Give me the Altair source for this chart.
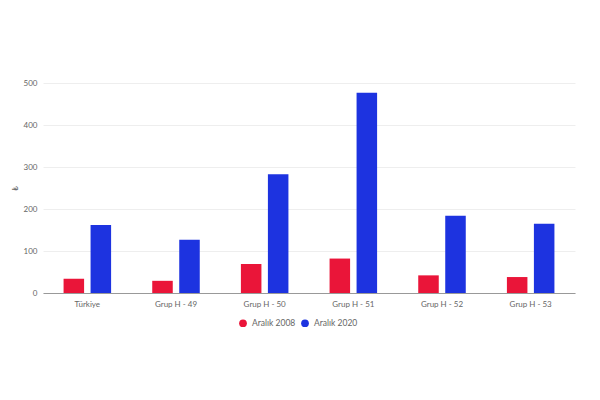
import altair as alt
import pandas as pd

categories = ["Türkiye", "Grup H - 49", "Grup H - 50", "Grup H - 51", "Grup H - 52", "Grup H - 53"]
series = ["Aralık 2008", "Aralık 2020"]
values_2008 = [34, 29, 69, 82, 42, 38]
values_2020 = [162, 127, 283, 477, 184, 165]

rows = []
for c, a, b in zip(categories, values_2008, values_2020):
    rows.append({"kategori": c, "seri": series[0], "deger": a})
    rows.append({"kategori": c, "seri": series[1], "deger": b})
df = pd.DataFrame(rows)

FONT = "Lato"

chart = alt.Chart(df).mark_bar().encode(
    x=alt.X("kategori:N", sort=categories,
            scale=alt.Scale(paddingInner=0.464, paddingOuter=0.232),
            axis=alt.Axis(title=None, labelAngle=0, labelFontSize=8, labelColor="#666666",
                          labelFont=FONT, domainColor="#999999", ticks=False, labelPadding=7)),
    xOffset=alt.XOffset("seri:N", sort=series, scale=alt.Scale(paddingInner=0.24, paddingOuter=0)),
    y=alt.Y("deger:Q", scale=alt.Scale(domain=[0, 500]),
            axis=alt.Axis(title="₺", values=[0, 100, 200, 300, 400, 500], labelFontSize=8,
                          labelColor="#666666", labelFont=FONT, titleFont=FONT, titleFontSize=8,
                          titleFontWeight="normal", titleColor="#666666", titlePadding=4,
                          domain=False, ticks=False, gridColor="#eeeeee", labelPadding=6)),
    color=alt.Color("seri:N", sort=series,
                    scale=alt.Scale(domain=series, range=["#EA1539", "#1D33E0"]),
                    legend=alt.Legend(title=None, orient="none", direction="horizontal",
                                      legendX=195, legendY=235, symbolType="circle",
                                      symbolSize=60, labelFontSize=8.5, labelColor="#666666",
                                      labelFont=FONT, columnPadding=4)),
).properties(
    width=532, height=210,
    padding={"left": 43, "top": 83, "right": 25, "bottom": 107},
    autosize=alt.AutoSizeParams(type="none"),
).configure_view(stroke=None)

chart.save("out.html", embed_options={"renderer": "svg", "actions": False})
